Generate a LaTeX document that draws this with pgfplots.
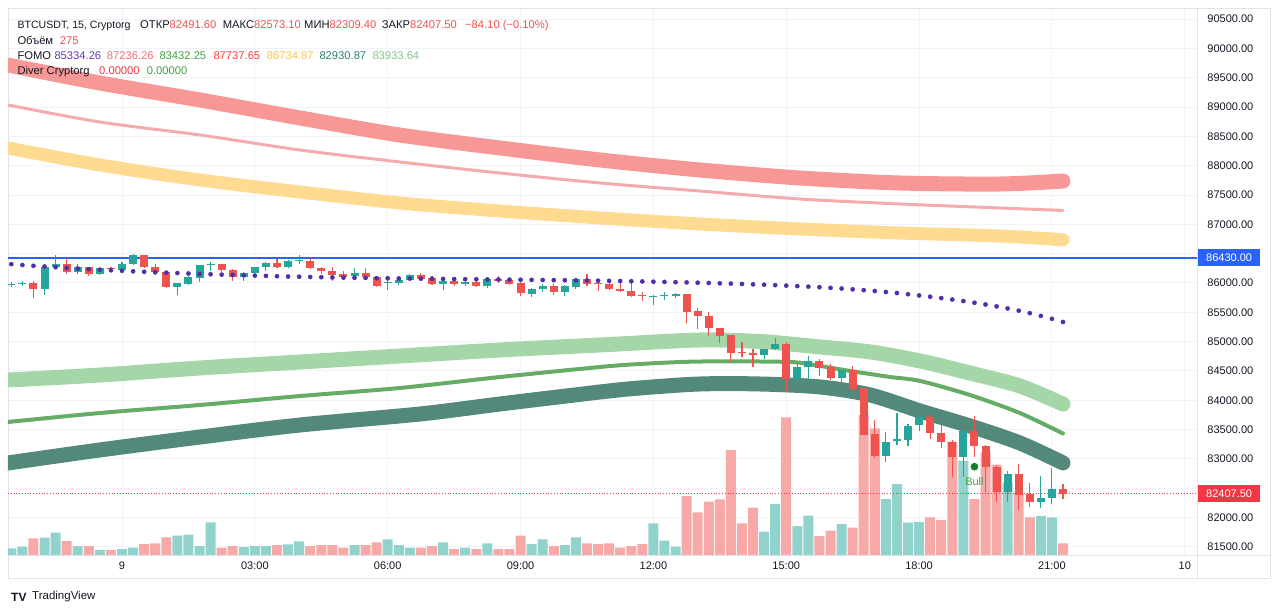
\documentclass[border=0pt]{standalone}
\usepackage{fontspec}
\setmainfont{Liberation Sans}
\usepackage{pgfplots}
\usepackage{pgfplotstable}
\pgfplotsset{compat=1.18}

\definecolor{cgreen}{RGB}{38,166,154}
\definecolor{cred}{RGB}{239,83,80}
\definecolor{vgreen}{RGB}{146,210,204}
\definecolor{vred}{RGB}{247,169,167}
\definecolor{bandred}{RGB}{248,152,150}
\definecolor{bandpink}{RGB}{245,170,174}
\definecolor{bandyellow}{RGB}{254,219,145}
\definecolor{bandlgreen}{RGB}{165,214,167}
\definecolor{bandmgreen}{RGB}{102,172,102}
\definecolor{bandteal}{RGB}{82,137,122}
\definecolor{dotpurple}{RGB}{81,45,168}
\definecolor{tvblue}{RGB}{41,98,255}
\definecolor{tvtext}{RGB}{19,23,34}
\definecolor{gridc}{RGB}{240,243,250}
\definecolor{framec}{RGB}{224,227,235}
\definecolor{valred}{RGB}{240,80,80}
\definecolor{tagred}{RGB}{242,54,69}
\definecolor{hpurple}{RGB}{103,58,183}
\definecolor{hpink}{RGB}{240,110,120}
\definecolor{hgreen}{RGB}{67,160,71}
\definecolor{hred}{RGB}{255,60,60}
\definecolor{hyellow}{RGB}{250,195,80}
\definecolor{hteal}{RGB}{47,127,110}
\definecolor{hlgreen}{RGB}{129,199,132}
\definecolor{bullgreen}{RGB}{16,128,48}

\pgfplotstableread{
i o h l c v
-10 85975 86022 85936 85990 4.3
-9 85985 86033 85950 86000 6
-7 85900 86290 85794 86277 15
-6 86267 86476 86250 86322 20
-4 86192 86322 86152 86277 6.7
-2 86153 86260 86140 86249 2.7
0 86220 86350 86200 86322 3.7
1 86322 86500 86310 86476 5
5 85930 86000 85794 85995 17
6 85982 86110 85960 86096 18
7 86079 86310 86022 86306 6.7
8 86306 86360 86200 86330 30.3
11 86096 86180 86030 86175 5.7
12 86175 86270 86150 86266 6.7
13 86266 86350 86200 86344 6.7
15 86266 86390 86250 86379 8.3
16 86370 86476 86330 86390 11.3
21 86110 86250 86080 86165 7.7
24 85995 86110 85880 86020 13.3
25 86000 86080 85970 86050 7.7
26 86050 86160 86040 86135 5
29 85982 86100 85880 86040 10.3
31 85985 86070 85950 86020 5
33 85948 86080 85910 86062 9.3
37 85812 85910 85760 85891 8.7
38 85891 85990 85850 85948 13.3
40 85850 85970 85780 85940 7.7
41 85925 86080 85905 86062 15.3
48 85755 85800 85630 85775 29.3
49 85775 85850 85710 85795 12
50 85770 85830 85740 85805 6
58 84770 84880 84700 84867 21
59 84867 85056 84850 84952 48.7
61 84357 84630 84350 84562 26.7
62 84562 84754 84333 84669 37
65 84374 84520 84220 84515 28.7
69 83049 83464 82952 83293 53.7
70 83305 83777 83237 83339 68.7
71 83322 83600 83220 83561 30
72 83578 83740 83480 83720 30.7
76 83038 83490 82697 83481 92
80 82441 82800 82270 82743 70
83 82270 82708 82168 82328 36.7
84 82328 82850 82226 82486 35.3
}\greentab

\pgfplotstableread{
i o h l c v
-8 85995 86038 85740 85900 14.3
-5 86322 86420 86147 86181 11.7
-3 86266 86280 86123 86153 6.7
-1 86250 86280 86190 86230 2.7
2 86476 86480 86250 86266 8.7
3 86277 86320 86130 86181 9.3
4 86192 86210 85910 85930 15.3
9 86322 86330 86190 86220 5
10 86220 86230 86030 86096 6.7
14 86340 86410 86260 86270 7.7
17 86379 86420 86230 86250 6.7
18 86250 86280 86160 86210 7.7
19 86210 86278 86040 86135 7.7
20 86153 86210 86050 86096 5
22 86165 86250 86080 86096 7.7
23 86096 86110 85930 85953 10.3
27 86130 86170 86050 86070 5
28 86080 86110 85960 85982 6.7
30 86040 86080 85950 85977 3.7
32 86020 86060 85930 85948 3.7
34 86060 86110 86000 86040 3.7
35 86050 86080 85960 85980 3.7
36 85995 86010 85780 85824 17
39 85948 85990 85790 85850 6.7
42 86062 86150 85950 85980 9.3
43 86000 86040 85870 85985 8.7
44 85977 86060 85880 85891 9.3
45 85905 86060 85850 85870 5
46 85870 86050 85760 85777 6.7
47 85794 85850 85700 85770 8.7
51 85806 85810 85312 85510 56.7
52 85527 85580 85210 85441 40.3
53 85441 85500 85095 85227 51
54 85227 85230 84970 85100 53.3
55 85112 85120 84657 84800 102.7
56 84820 85000 84730 84800 29.3
57 84810 84870 84562 84770 45
60 84960 85000 84146 84357 135.3
63 84669 84700 84420 84550 16.7
64 84562 84610 84340 84374 22
66 84515 84580 84170 84186 25
67 84204 84230 83400 83407 137.7
68 83424 83663 83010 83049 124.3
73 83720 83740 83340 83447 35.3
74 83447 83580 83180 83293 32.7
75 83283 83330 82697 83038 111
77 83481 83731 83038 83220 53.7
78 83220 83240 82430 82867 100
79 82867 82900 82270 82441 88
81 82743 82913 82128 82385 60
82 82396 82589 82185 82270 35.3
85 82491.6 82573.1 82309.4 82407.5 9.3
}\redtab

\pgfplotstableread{
i p
-10 86320
-9 86305
-8 86292
-7 86280
-6 86268
-5 86257
-4 86246
-3 86236
-2 86226
-1 86216
0 86207
1 86198
2 86190
3 86182
4 86175
5 86168
6 86161
7 86154
8 86148
9 86142
10 86136
11 86130
12 86125
13 86120
14 86115
15 86110
16 86106
17 86102
18 86098
19 86094
20 86091
21 86088
22 86085
23 86082
24 86079
25 86076
26 86074
27 86072
28 86070
29 86068
30 86066
31 86064
32 86062
33 86060
34 86058
35 86056
36 86054
37 86052
38 86050
39 86048
40 86046
41 86044
42 86041
43 86038
44 86035
45 86032
46 86029
47 86025
48 86021
49 86017
50 86013
51 86009
52 86004
53 85999
54 85994
55 85988
56 85982
57 85976
58 85969
59 85962
60 85954
61 85946
62 85937
63 85927
64 85916
65 85904
66 85891
67 85877
68 85862
69 85846
70 85828
71 85808
72 85787
73 85765
74 85742
75 85717
76 85691
77 85663
78 85633
79 85600
80 85565
81 85527
82 85485
83 85438
84 85388
85 85334
}\dottab

\newcommand{\hfont}{\fontsize{11.2}{13}\selectfont}

\begin{document}
\begin{tikzpicture}
\useasboundingbox (0pt,0pt) rectangle (1280pt,613pt);
% chart frame
\draw[framec, line width=0.8pt] (8pt,605pt) rectangle (1270pt,35pt);
\draw[framec, line width=0.8pt] (1197pt,605pt) -- (1197pt,35pt);
\draw[framec, line width=0.8pt] (8pt,58pt) -- (1270pt,58pt);

\begin{axis}[
  at={(8pt,58pt)}, anchor=south west,
  width=1189pt, height=547pt, scale only axis,
  xmin=-10.3, xmax=97.1, ymin=81361, ymax=90688,
  axis line style={draw=framec, line width=0.8pt},
  xtick={0,12,24,36,48,60,72,84,96},
  xticklabels={9,03:00,06:00,09:00,12:00,15:00,18:00,21:00,10},
  ytick={81500,82000,82500,83000,83500,84000,84500,85000,85500,86000,86500,87000,87500,88000,88500,89000,89500,90000,90500},
  yticklabels={81500.00,82000.00,{},83000.00,83500.00,84000.00,84500.00,85000.00,85500.00,86000.00,{},87000.00,87500.00,88000.00,88500.00,89000.00,89500.00,90000.00,90500.00},
  yticklabel pos=right,
  major tick length=0pt,
  xmajorgrids, ymajorgrids,
  grid style={draw=gridc, line width=0.9pt},
  tick label style={font=\fontsize{11}{13}\selectfont, text=tvtext},
  yticklabel style={xshift=7pt},
  xticklabel style={yshift=-3pt},
  clip=true,
]
% volume
\addplot[ybar, bar width=10pt, bar shift=0pt, fill=vgreen, draw=none, forget plot]
  table[x=i, y expr=81400+17.05*\thisrow{v}] {\greentab};
\addplot[ybar, bar width=10pt, bar shift=0pt, fill=vred, draw=none, forget plot]
  table[x=i, y expr=81400+17.05*\thisrow{v}] {\redtab};

% FOMO bands
\addplot[bandred, line width=15pt, smooth, line cap=round, mark=none] coordinates {
(-10.3,89716) (-2,89409) (7.05,89119) (16.1,88812) (25.1,88522) (34.15,88301) (43.2,88096) (52.2,87926) (61.25,87789) (70.3,87704) (79.3,87687) (85,87738)};
\addplot[bandpink, line width=3pt, smooth, line cap=round, mark=none] coordinates {
(-10.3,89034) (-2,88744) (7.05,88522) (16.1,88266) (25.1,88062) (34.15,87874) (43.2,87704) (52.2,87567) (61.25,87431) (70.3,87346) (79.3,87278) (85,87236)};
\addplot[bandyellow, line width=13pt, smooth, line cap=round, mark=none] coordinates {
(-10.3,88301) (-2,88011) (7.05,87755) (16.1,87550) (25.1,87363) (34.15,87226) (43.2,87107) (52.2,87005) (61.25,86920) (70.3,86851) (79.3,86800) (85,86735)};
\addplot[bandlgreen, line width=15pt, smooth, line cap=round, mark=none] coordinates {
(-10.3,84345) (-2,84430) (7.05,84550) (16.1,84652) (25.1,84754) (34.15,84857) (43.2,84942) (52.2,85027) (57.6,85001) (60.3,84959) (63.05,84909) (67.6,84823) (72.1,84669) (76.6,84464) (81.1,84243) (85,83934)};
\addplot[bandmgreen, line width=4pt, smooth, line cap=round, mark=none] coordinates {
(-10.3,83629) (-2,83782) (7.05,83919) (16.1,84072) (25.1,84209) (34.15,84396) (43.2,84567) (46.8,84618) (52.2,84660) (60.3,84652) (63.05,84584) (65.8,84498) (69.4,84396) (72.1,84328) (76.6,84089) (81.1,83782) (85,83432)};
\addplot[bandteal, line width=15pt, smooth, line cap=round, mark=none] coordinates {
(-10.3,82930) (-2,83152) (7.05,83373) (16.1,83578) (26.9,83765) (34.15,83936) (43.2,84141) (46.8,84209) (52.2,84277) (57.6,84277) (63.05,84226) (67.6,84089) (72.1,83816) (76.6,83561) (81.1,83271) (85,82931)};

% horizontal lines
\addplot[tvblue, line width=1.6pt, mark=none] coordinates {(-10.3,86430) (97.1,86430)};
\addplot[tagred, line width=0.8pt, dotted, mark=none] coordinates {(-10.3,82407.5) (97.1,82407.5)};

% purple dots
\addplot[only marks, mark=*, mark size=2.1pt, color=dotpurple] table[x=i, y=p] {\dottab};

% candles: wicks
\addplot[draw=none, mark=none, forget plot,
  error bars/.cd, y dir=plus, y explicit, error mark=none,
  error bar style={line width=1.1pt, draw=cgreen}]
  table[x=i, y=l, y error plus expr=\thisrow{h}-\thisrow{l}] {\greentab};
\addplot[draw=none, mark=none, forget plot,
  error bars/.cd, y dir=plus, y explicit, error mark=none,
  error bar style={line width=1.1pt, draw=cred}]
  table[x=i, y=l, y error plus expr=\thisrow{h}-\thisrow{l}] {\redtab};
% candles: bodies
\addplot[draw=none, mark=none, forget plot,
  error bars/.cd, y dir=plus, y explicit, error mark=none,
  error bar style={line width=8pt, draw=cgreen}]
  table[x=i, y=o, y error plus expr=\thisrow{c}-\thisrow{o}] {\greentab};
\addplot[draw=none, mark=none, forget plot,
  error bars/.cd, y dir=plus, y explicit, error mark=none,
  error bar style={line width=8pt, draw=cred}]
  table[x=i, y=c, y error plus expr=\thisrow{o}-\thisrow{c}] {\redtab};

% Bull signal
\addplot[only marks, mark=*, mark size=3.6pt, color=bullgreen] coordinates {(77,82867)};
\node[text=hgreen, font=\fontsize{11}{13}\selectfont] at (axis cs:77,82610) {Bull};

\coordinate (pb) at (axis cs:97.1,86430);
\coordinate (pr) at (axis cs:97.1,82407.5);
\end{axis}

% price tags
\node[fill=tvblue, text=white, anchor=west, minimum height=17pt, minimum width=62pt, inner sep=0pt, font=\fontsize{11}{13}\selectfont] at ([xshift=1pt]pb) {86430.00};
\node[fill=tagred, text=white, anchor=west, minimum height=17pt, minimum width=62pt, inner sep=0pt, font=\fontsize{11}{13}\selectfont] at ([xshift=1pt]pr) {82407.50};

% header legend
\begin{scope}[every node/.style={anchor=base west, inner sep=0pt, font=\hfont, text=tvtext}]
\node[font=\fontsize{10.6}{13}\selectfont] at (17.3pt,584.3pt) {BTCUSDT, 15, Cryptorg};
\node at (140pt,584.3pt) {ОТКР\textcolor{valred}{82491.60}};
\node at (222.7pt,584.3pt) {МАКС\textcolor{valred}{82573.10}};
\node at (304pt,584.3pt) {МИН\textcolor{valred}{82309.40}};
\node at (381.7pt,584.3pt) {ЗАКР\textcolor{valred}{82407.50}};
\node at (465pt,584.3pt) {\textcolor{valred}{−84.10 (−0.10\%)}};
\node at (17.3pt,568.7pt) {Объём};
\node at (59.7pt,568.7pt) {\textcolor{valred}{275}};
\node at (17.3pt,553pt) {FOMO};
\node at (54.3pt,553pt) {\textcolor{hpurple}{85334.26}};
\node at (106.7pt,553pt) {\textcolor{hpink}{87236.26}};
\node at (159.3pt,553pt) {\textcolor{hgreen}{83432.25}};
\node at (213.3pt,553pt) {\textcolor{hred}{87737.65}};
\node at (266.7pt,553pt) {\textcolor{hyellow}{86734.87}};
\node at (319.3pt,553pt) {\textcolor{hteal}{82930.87}};
\node at (372.3pt,553pt) {\textcolor{hlgreen}{83933.64}};
\node at (17.3pt,538pt) {Diver Cryptorg};
\node at (99pt,538pt) {\textcolor{tagred}{0.00000}};
\node at (146.7pt,538pt) {\textcolor{hgreen}{0.00000}};
\end{scope}

% TradingView logo
\node[anchor=west, inner sep=0pt, text=tvtext, font=\fontsize{12}{12}\selectfont\bfseries] at (11pt,16pt) {TV};
\node[anchor=west, inner sep=0pt, text=tvtext, font=\fontsize{11.5}{13}\selectfont] at (32pt,16pt) {TradingView};
\end{tikzpicture}
\end{document}
